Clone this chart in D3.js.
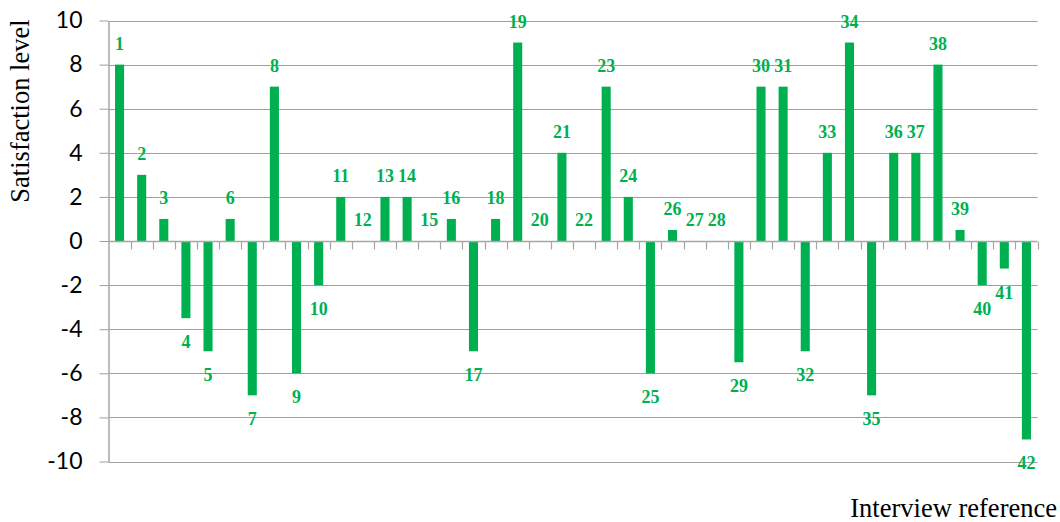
<!DOCTYPE html>
<html>
<head>
<meta charset="utf-8">
<script src="https://cdn.jsdelivr.net/npm/d3@7"></script>
<style>
  html, body { margin: 0; padding: 0; background: #fff; }
  svg { display: block; }
</style>
</head>
<body>
<svg id="chart" width="1060" height="522"></svg>
<script>
// Interview references 1..42 and their satisfaction scores
const interviews = d3.range(1, 43);
const satisfaction = [
  8, 3, 1, -3.5, -5, 1, -7, 7, -6, -2,
  2, 0, 2, 2, 0, 1, -5, 1, 9, 0,
  4, 0, 7, 2, -6, 0.5, 0, 0, -5.5, 7,
  7, -5, 4, 9, -7, 4, 4, 8, 0.5, -2,
  -1.25, -9
];
const yTicks = [-10, -8, -6, -4, -2, 0, 2, 4, 6, 8, 10];
const yTitle = "Satisfaction level";
const xTitle = "Interview reference";

const data = interviews.map((id, i) => ({ id, value: satisfaction[i] }));

const svg = d3.select("#chart");
const plotLeft = 108.5, plotRight = 1037.5, plotTop = 20.5, plotBottom = 461.5;
const green = "#00b050";
const gridColor = "#a0a0a0";
const axisColor = "#a6a6a6";

const x = d3.scaleBand().domain(interviews).range([plotLeft, plotRight]).padding(0);
const y = d3.scaleLinear().domain([-10, 10]).range([plotBottom, plotTop]);
const barW = x.bandwidth() * 0.41;

// horizontal gridlines
svg.append("g")
  .selectAll("line")
  .data(yTicks.filter(v => v !== 0))
  .join("line")
  .attr("x1", plotLeft).attr("x2", plotRight)
  .attr("y1", d => Math.round(y(d)) + 0.5).attr("y2", d => Math.round(y(d)) + 0.5)
  .attr("stroke", gridColor).attr("stroke-width", 1);

// y axis with outward ticks, plain hyphen for negatives
const yAxis = svg.append("g")
  .attr("transform", `translate(${plotLeft},0)`)
  .call(d3.axisLeft(y).tickValues(yTicks).tickSize(9).tickPadding(17).tickSizeOuter(0)
    .tickFormat(d => String(d)));
yAxis.select(".domain").attr("stroke", axisColor).attr("stroke-width", 1.5);
yAxis.selectAll(".tick line").attr("stroke", gridColor);
yAxis.selectAll(".tick text")
  .attr("font-family", "Lato, 'Open Sans', sans-serif")
  .attr("font-size", 23)
  .attr("fill", "#000");

// bars
svg.append("g")
  .selectAll("rect")
  .data(data)
  .join("rect")
  .attr("x", d => x(d.id) + (x.bandwidth() - barW) / 2)
  .attr("width", barW)
  .attr("y", d => y(Math.max(0, d.value)))
  .attr("height", d => Math.abs(y(d.value) - y(0)))
  .attr("fill", green);

// category axis at zero with downward ticks between bars
const y0 = Math.round(y(0)) + 0.5;
svg.append("line")
  .attr("x1", plotLeft).attr("x2", plotRight)
  .attr("y1", y0).attr("y2", y0)
  .attr("stroke", axisColor).attr("stroke-width", 1.5);
svg.append("g")
  .selectAll("line")
  .data(interviews)
  .join("line")
  .attr("x1", d => Math.round(x(d) + x.bandwidth()) + 0.5)
  .attr("x2", d => Math.round(x(d) + x.bandwidth()) + 0.5)
  .attr("y1", y0).attr("y2", y0 + 8)
  .attr("stroke", axisColor).attr("stroke-width", 1.2);

// value labels: interview numbers above positive bars, below negative ones
svg.append("g")
  .selectAll("text")
  .data(data)
  .join("text")
  .attr("x", d => x(d.id) + x.bandwidth() / 2)
  .attr("y", d => d.value >= 0 ? y(d.value) - 15 : y(d.value) + 30)
  .attr("text-anchor", "middle")
  .attr("font-family", "'Liberation Serif', 'Times New Roman', serif")
  .attr("font-weight", "bold")
  .attr("font-size", 18)
  .attr("fill", green)
  .text(d => d.id);

// axis titles
svg.append("text")
  .attr("transform", `translate(29,111) rotate(-90)`)
  .attr("text-anchor", "middle")
  .attr("font-family", "'Liberation Serif', 'Times New Roman', serif")
  .attr("font-size", 26.5)
  .attr("fill", "#000")
  .text(yTitle);

svg.append("text")
  .attr("x", 1057).attr("y", 517)
  .attr("text-anchor", "end")
  .attr("font-family", "'Liberation Serif', 'Times New Roman', serif")
  .attr("font-size", 26.5)
  .attr("fill", "#000")
  .text(xTitle);
</script>
</body>
</html>
